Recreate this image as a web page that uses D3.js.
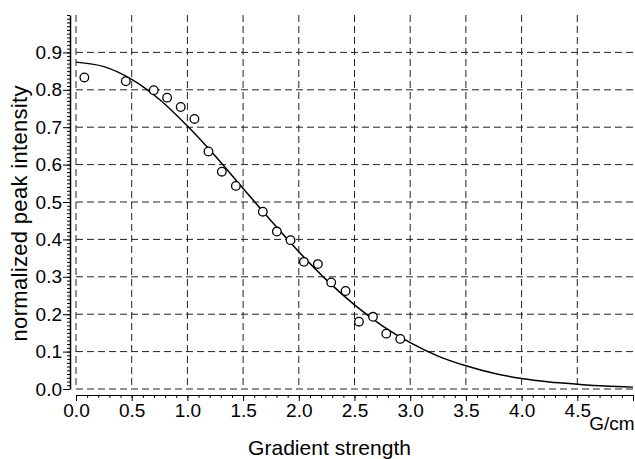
<!DOCTYPE html>
<html>
<head>
<meta charset="utf-8">
<script src="https://cdn.jsdelivr.net/npm/d3@7"></script>
<style>
  body { margin: 0; background: #fff; }
  svg { display: block; font-family: "Liberation Sans", Arial, Helvetica, sans-serif; }
  .grid line { stroke: #222; stroke-width: 1; stroke-dasharray: 7 4; }
  .axis path, .axis line { stroke: #000; }
  .axis text { font-size: 19px; fill: #000; }
</style>
</head>
<body>
<div class="chart"></div>
<script>
// measured points
const gradient = [0.075, 0.447, 0.698, 0.818, 0.940, 1.063, 1.189, 1.309, 1.435,
  1.677, 1.803, 1.926, 2.046, 2.171, 2.291, 2.420, 2.540, 2.666, 2.785, 2.911];
const intensity = [0.833, 0.823, 0.799, 0.779, 0.754, 0.722, 0.635, 0.581, 0.543,
  0.474, 0.421, 0.398, 0.340, 0.334, 0.285, 0.262, 0.180, 0.193, 0.148, 0.134];

// fitted curve
const fitX = [0, 0.25, 0.5, 0.75, 1.0, 1.25, 1.5, 1.75, 2.0, 2.25, 2.5, 2.75,
  3.0, 3.25, 3.5, 3.75, 4.0, 4.25, 4.5, 4.75, 5.0];
const fitY = [0.874, 0.862, 0.828, 0.774, 0.703, 0.623, 0.536, 0.450, 0.367, 0.291,
  0.225, 0.169, 0.124, 0.088, 0.062, 0.042, 0.028, 0.019, 0.013, 0.008, 0.005];

const xTicks = [0, 0.5, 1.0, 1.5, 2.0, 2.5, 3.0, 3.5, 4.0, 4.5];
const yTicks = [0, 0.1, 0.2, 0.3, 0.4, 0.5, 0.6, 0.7, 0.8, 0.9];

const W = 635, H = 459;
const margin = {top: 15, right: 2, bottom: 70, left: 76};
const width = W - margin.left - margin.right;
const height = H - margin.top - margin.bottom;

let svg = d3.select('.chart')
  .append('svg')
    .attr('width', W)
    .attr('height', H)
  .append('g')
    .attr('transform', `translate(${margin.left}, ${margin.top})`);

let xScale = d3.scaleLinear().domain([0, 5]).range([0, width]);
let yScale = d3.scaleLinear().domain([0, 1]).range([height, 0]);

// grid
let grid = svg.append('g').attr('class', 'grid');
grid.selectAll('.v')
  .data(xTicks)
  .join('line')
    .attr('x1', d => xScale(d)).attr('x2', d => xScale(d))
    .attr('y1', 0).attr('y2', height);
grid.selectAll('.h')
  .data(yTicks)
  .join('line')
    .attr('x1', 0).attr('x2', width)
    .attr('y1', d => yScale(d)).attr('y2', d => yScale(d));

// y axis, offset to the left
let yMinor = d3.axisLeft(yScale)
  .tickValues(d3.range(0, 101).map(i => i / 100))
  .tickSize(3).tickSizeOuter(0).tickFormat('');
svg.append('g')
  .attr('class', 'axis')
  .attr('transform', 'translate(-6, 0)')
  .call(yMinor)
  .select('.domain').attr('stroke-width', 1.5);

let yAxis = d3.axisLeft(yScale)
  .tickValues(yTicks)
  .tickSize(7).tickSizeOuter(0).tickPadding(1)
  .tickFormat(d3.format('.1f'));
svg.append('g')
  .attr('class', 'axis')
  .attr('transform', 'translate(-6, 0)')
  .call(yAxis)
  .call(g => g.select('.domain').remove());

// x axis, offset downward
let xMinor = d3.axisBottom(xScale)
  .tickValues(d3.range(0, 51).map(i => i / 10))
  .tickSize(3).tickSizeOuter(0).tickFormat('');
svg.append('g')
  .attr('class', 'axis')
  .attr('transform', `translate(0, ${height + 6})`)
  .call(xMinor);

let xAxis = d3.axisBottom(xScale)
  .tickValues(xTicks.concat([5]))
  .tickSize(6).tickSizeOuter(0).tickPadding(3)
  .tickFormat(d => d === 5 ? '' : d3.format('.1f')(d));
svg.append('g')
  .attr('class', 'axis')
  .attr('transform', `translate(0, ${height + 6})`)
  .call(xAxis)
  .call(g => g.select('.domain').remove());

// fit line
let line = d3.line()
  .x((d, i) => xScale(fitX[i]))
  .y(d => yScale(d))
  .curve(d3.curveMonotoneX);
svg.append('path')
  .datum(fitY)
  .attr('d', line)
  .attr('fill', 'none')
  .attr('stroke', '#000')
  .attr('stroke-width', 1.5);

// points
svg.selectAll('.pt')
  .data(gradient)
  .join('circle')
    .attr('cx', d => xScale(d))
    .attr('cy', (d, i) => yScale(intensity[i]))
    .attr('r', 4.3)
    .attr('fill', '#fff')
    .attr('stroke', '#000')
    .attr('stroke-width', 1.3);

// labels
svg.append('text')
  .attr('x', xScale(4.5) + 12)
  .attr('y', height + 41)
  .style('font-size', '19px')
  .text('G/cm');

svg.append('text')
  .attr('x', 253.5)
  .attr('y', height + 66)
  .attr('text-anchor', 'middle')
  .attr('textLength', 163)
  .style('font-size', '21px')
  .text('Gradient strength');

svg.append('text')
  .attr('transform', 'translate(-49, 198.5) rotate(-90)')
  .attr('text-anchor', 'middle')
  .attr('textLength', 256)
  .style('font-size', '22px')
  .text('normalized peak intensity');
</script>
</body>
</html>
